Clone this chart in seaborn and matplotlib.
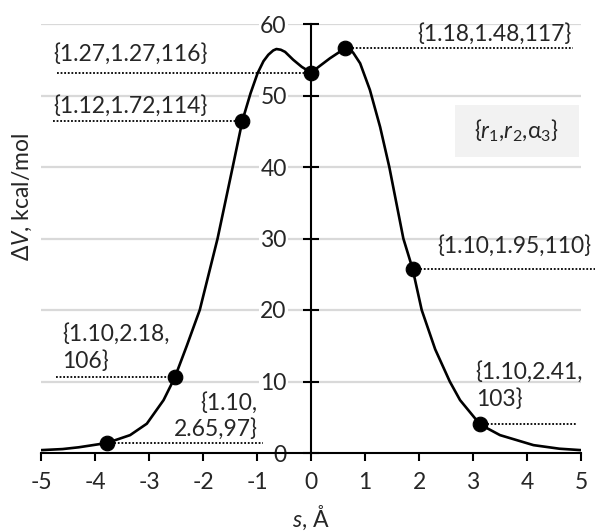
import matplotlib
matplotlib.use("Agg")
import matplotlib.pyplot as plt
from matplotlib.patches import Rectangle
import seaborn as sns
import numpy as np

# ---- data ----
curve_s = [-5.0, -4.6, -4.3, -3.78, -3.35, -3.04, -2.73, -2.52, -2.3, -2.06, -1.73, -1.45, -1.27,
           -1.12, -0.99, -0.88, -0.79, -0.70, -0.64, -0.56, -0.48, -0.33, -0.17, 0.0, 0.35, 0.63,
           0.72, 0.78, 0.91, 1.09, 1.28, 1.45, 1.71, 1.88, 2.05, 2.3, 2.57, 2.76, 3.13, 3.5,
           4.12, 4.6, 5.0]
curve_v = [0.4, 0.55, 0.8, 1.4, 2.5, 4.1, 7.4, 10.6, 15.0, 20.0, 30.0, 40.0, 46.5,
           50.3, 53.1, 54.8, 55.7, 56.3, 56.5, 56.4, 56.1, 55.0, 54.0, 53.2, 55.2, 56.6,
           56.4, 56.0, 54.5, 50.8, 45.6, 40.0, 30.0, 25.8, 20.0, 14.5, 10.0, 7.4, 4.0, 2.5,
           1.1, 0.6, 0.4]

point_s = [-3.78, -2.52, -1.27, 0.0, 0.63, 1.88, 3.13]
point_v = [1.4, 10.6, 46.5, 53.2, 56.6, 25.8, 4.0]
point_labels = ["{1.10,\n2.65,97}", "{1.10,2.18,\n106}", "{1.12,1.72,114}", "{1.27,1.27,116}",
                "{1.18,1.48,117}", "{1.10,1.95,110}", "{1.10,2.41,\n103}"]
# dotted leader end (x) for each point
leader_end = [-0.89, -4.72, -4.78, -4.70, 4.85, 5.26, 4.93]

x_ticks = [-5, -4, -3, -2, -1, 0, 1, 2, 3, 4, 5]
y_ticks = [0, 10, 20, 30, 40, 50, 60]

sns.set_theme(style="white")
plt.rcParams['font.family'] = ['Lato', 'DejaVu Sans']
plt.rcParams['mathtext.fontset'] = 'custom'
plt.rcParams['mathtext.rm'] = 'Lato'
plt.rcParams['mathtext.it'] = 'Lato:italic'

TXT = '#262626'
fig = plt.figure(figsize=(5.97, 5.31), dpi=100)
ax = fig.add_axes([41/597, 1-453/531, 540/597, 429/531])

ax.set_xlim(-5, 5)
ax.set_ylim(0, 60)
ax.set_axisbelow(True)
for y in y_ticks[1:]:
    ax.axhline(y, color='#d9d9d9', lw=1.6, zorder=0)

# leaders
for s, v, e in zip(point_s, point_v, leader_end):
    ax.plot([min(s, e), max(s, e)], [v, v], color='black', lw=1.3, ls=(0, (1, 1)),
            zorder=2, clip_on=False)

sns.lineplot(x=curve_s, y=curve_v, color='black', lw=1.9, sort=False, ax=ax, zorder=3)
sns.scatterplot(x=point_s, y=point_v, color='black', s=110, edgecolor='black', ax=ax, zorder=4)

fs = 16.5
kw = dict(fontsize=fs, color=TXT, zorder=5)
ax.text(-4.78, 55.8, point_labels[3], ha='left', va='center', **kw)
ax.text(-4.78, 48.5, point_labels[2], ha='left', va='center', **kw)
ax.text(4.82, 58.6, point_labels[4], ha='right', va='center', **kw)
ax.text(2.33, 29.0, point_labels[5], ha='left', va='center', **kw)
ax.text(-4.6, 11.3, point_labels[1], ha='left', va='bottom', linespacing=1.3, **kw)
ax.text(-0.99, 1.9, point_labels[0], ha='right', va='bottom', linespacing=1.2, **kw)
ax.text(3.05, 6.0, point_labels[6], ha='left', va='bottom', linespacing=1.3, **kw)

ax.add_patch(Rectangle((2.67, 41.4), 2.29, 7.3, facecolor='#f2f2f2', edgecolor='none', zorder=4))
ax.text(3.81, 45.0, r'{$\it{r}$$_{1}$,$\it{r}$$_{2}$,α$_{3}$}', ha='center', va='center',
        fontsize=fs, color=TXT, zorder=5)

# axes/spines
for sp in ['top', 'right']:
    ax.spines[sp].set_visible(False)
ax.spines['left'].set_position(('data', 0))
ax.spines['bottom'].set_position(('data', 0))
for sp in ['left', 'bottom']:
    ax.spines[sp].set_color('black')
    ax.spines[sp].set_linewidth(1.5)
ax.spines['left'].set_zorder(1)

ax.set_xticks(x_ticks)
ax.set_xticklabels([str(t) for t in x_ticks])
ax.set_yticks(y_ticks)
ax.set_yticklabels([str(t) for t in y_ticks])
ax.tick_params(axis='x', direction='out', length=6, width=1.5, color='black',
               labelsize=fs, labelcolor=TXT, pad=8, bottom=True)
ax.tick_params(axis='y', direction='inout', length=11, width=1.5, color='black',
               labelsize=fs, labelcolor=TXT, pad=12, left=True)
for lbl in ax.get_yticklabels():
    lbl.set_bbox(dict(facecolor='white', edgecolor='none', pad=1.0))

fig.text(22/597, 1-197/531, r'Δ$\it{V}$, kcal/mol', rotation=90, ha='center', va='center',
         fontsize=fs, color=TXT)
fig.text(311/597, 1-518/531, r'$\it{s}$, Å', ha='center', va='center', fontsize=fs, color=TXT)

fig.savefig('out.png', dpi=100)
